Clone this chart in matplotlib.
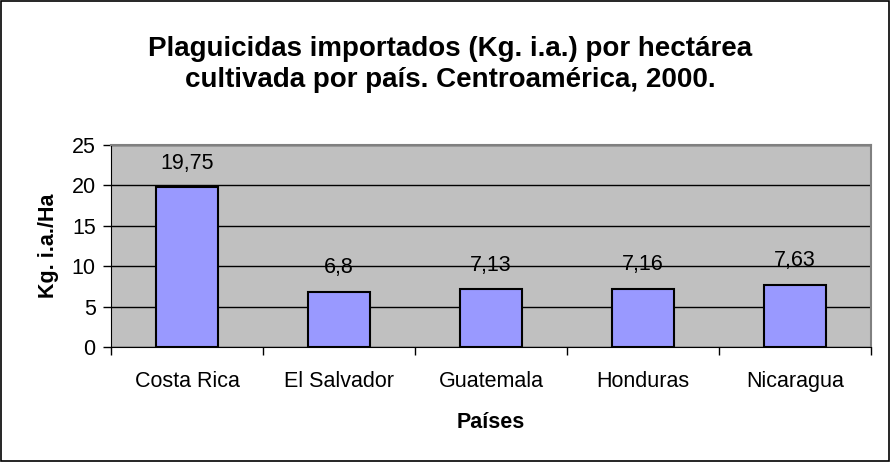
import matplotlib
matplotlib.use("Agg")
import matplotlib.pyplot as plt
from matplotlib.patches import Rectangle

paises = ["Costa Rica", "El Salvador", "Guatemala", "Honduras", "Nicaragua"]
kg_ha = [19.75, 6.8, 7.13, 7.16, 7.63]
etiquetas = ["19,75", "6,8", "7,13", "7,16", "7,63"]

plt.rcParams['font.family'] = ['Liberation Sans', 'DejaVu Sans']

fig = plt.figure(figsize=(8.91, 4.62), dpi=100)
ax = fig.add_axes([111/891, 1 - 347/462, 760/891, 202/462])

ax.set_facecolor("#C0C0C0")
x = range(len(paises))
bars = ax.bar(x, kg_ha, width=0.41, color="#9999FF", edgecolor="black", linewidth=1.5, zorder=3)

for b, lab in zip(bars, etiquetas):
    ax.annotate(lab, (b.get_x() + b.get_width() / 2, b.get_height()),
                xytext=(0, 10), textcoords="offset points",
                ha="center", va="bottom", fontsize=15.5)

ax.set_xlim(-0.5, len(paises) - 0.5)
ax.set_ylim(0, 25)
ax.set_yticks([0, 5, 10, 15, 20, 25])
ax.yaxis.grid(True, color="black", linewidth=1)
ax.set_axisbelow(True)

ax.set_xticks(list(x))
ax.set_xticklabels(paises, fontsize=15.5)
ax.set_xticks([i - 0.5 for i in range(len(paises) + 1)], minor=True)
ax.tick_params(axis="x", which="major", length=0, pad=17)
ax.tick_params(axis="x", which="minor", length=6, width=1, direction="out")
ax.tick_params(axis="y", length=6, width=1, labelsize=15.5, pad=5)

for s in ["top", "right"]:
    ax.spines[s].set_color("#808080")
    ax.spines[s].set_linewidth(1.5)
ax.spines["left"].set_color("black")
ax.spines["bottom"].set_color("black")

ax.set_xlabel("Países", fontsize=15.5, fontweight="bold", labelpad=15)
ax.set_ylabel("Kg. i.a./Ha", fontsize=15.5, fontweight="bold", labelpad=9)

fig.text(0.505, 0.86, "Plaguicidas importados (Kg. i.a.) por hectárea\ncultivada por país. Centroamérica, 2000.",
         ha="center", va="center", fontsize=20, fontweight="bold", linespacing=1.25)

fig.patches.append(Rectangle((0.001, 0.002), 0.997, 0.996, transform=fig.transFigure,
                             fill=False, edgecolor="black", linewidth=1.2))

fig.savefig("out.png", dpi=100)
